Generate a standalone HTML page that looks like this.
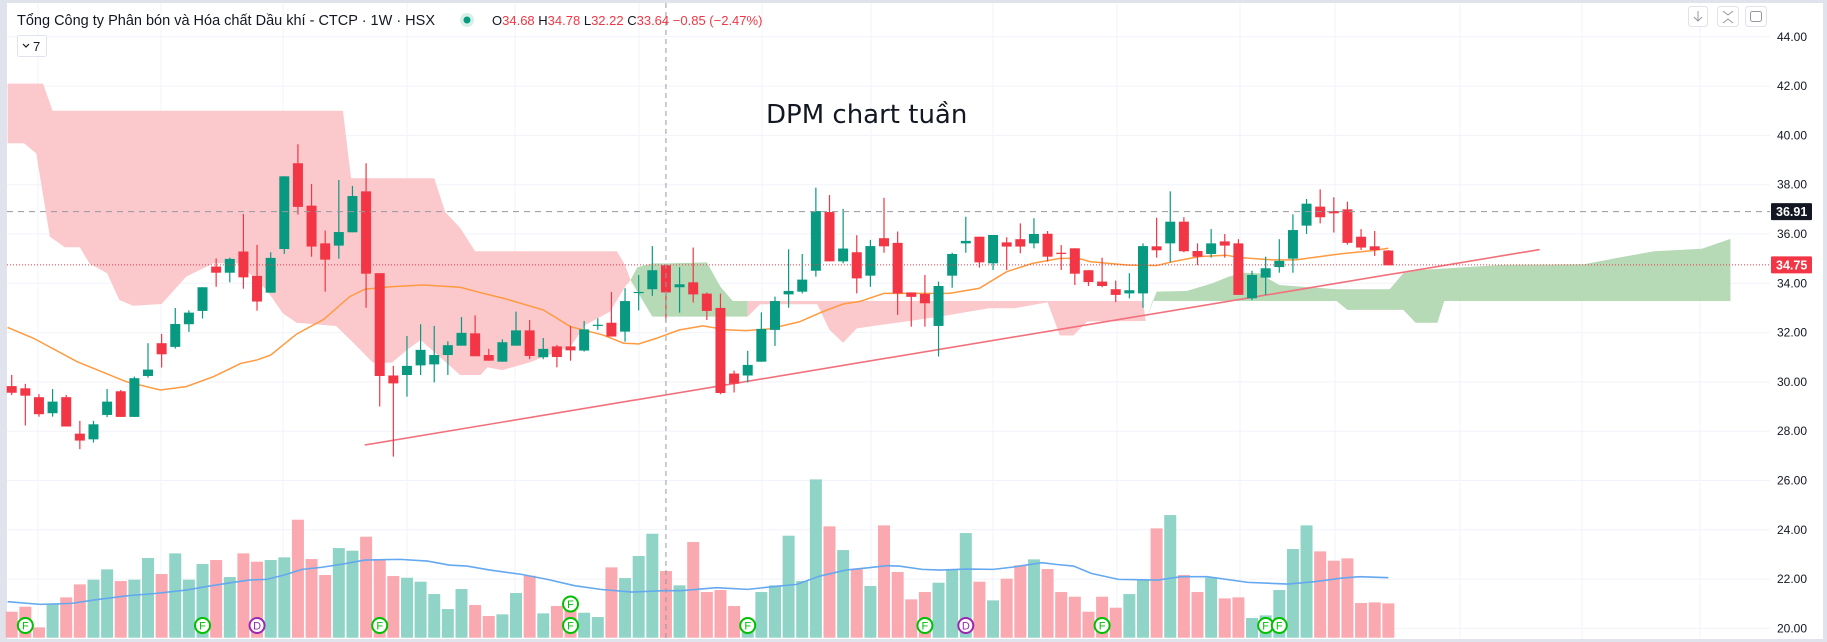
<!DOCTYPE html>
<html><head><meta charset="utf-8"><style>
html,body{margin:0;padding:0;background:#fff;}
svg{display:block;font-family:"Liberation Sans","Noto Sans CJK SC",sans-serif;}
</style></head><body>
<svg id="chart" width="1827" height="642" viewBox="0 0 1827 642" xmlns="http://www.w3.org/2000/svg">
<rect x="0" y="0" width="1827" height="642" fill="#e0e3eb"/>
<rect x="7" y="3" width="1816" height="636" fill="#ffffff"/>
<g id="grid"></g>
<g id="clouds"></g>
<g id="vol"></g>
<g id="lines"></g>
<g id="candles"></g>
<g id="overlay"></g>
<g id="axis"></g>
<text x="766" y="123" font-size="26" fill="#131722" style="font-family:'DejaVu Sans','Liberation Sans',sans-serif">DPM chart tuần</text>
<g>
<text x="17" y="25" font-size="14.5" fill="#131722">Tổng Công ty Phân bón và Hóa chất Dầu khí - CTCP · 1W · HSX</text>
<circle cx="467" cy="20" r="7" fill="#d6efe9"/>
<circle cx="467" cy="20" r="3.5" fill="#089981"/>
<text x="492" y="25" font-size="13" fill="#131722">O<tspan fill="#f23645">34.68</tspan> H<tspan fill="#f23645">34.78</tspan> L<tspan fill="#f23645">32.22</tspan> C<tspan fill="#f23645">33.64</tspan> <tspan fill="#f23645">−0.85 (−2.47%)</tspan></text>
<rect x="17.5" y="35.5" width="29" height="21" rx="2" fill="#fff" stroke="#e0e3eb"/>
<path d="M23 44 l3 3 l3 -3" fill="none" stroke="#131722" stroke-width="1.2"/>
<text x="33" y="51" font-size="13" fill="#131722">7</text>
</g>
<g>
<rect x="1688.5" y="6.5" width="19" height="20" rx="3" fill="#fff" stroke="#e0e3eb"/>
<path d="M1698 11 v10 M1694 17 l4 4 l4 -4" fill="none" stroke="#9598a1"/>
<rect x="1717.5" y="6.5" width="21" height="20" rx="3" fill="#fff" stroke="#e0e3eb"/>
<path d="M1723 11 l5 4 l5 -4 M1723 23 l5 -4 l5 4" fill="none" stroke="#9598a1"/>
<rect x="1745.5" y="6.5" width="21" height="20" rx="3" fill="#fff" stroke="#e0e3eb"/>
<rect x="1750.5" y="11.5" width="11" height="10" rx="2" fill="none" stroke="#9598a1"/>
</g>
</svg>
<script>
const opens=[29.83,29.74,29.38,28.73,29.38,27.90,27.67,28.66,29.62,28.58,30.24,31.57,31.42,32.34,32.88,34.68,34.43,35.29,34.30,33.62,35.39,38.87,37.15,35.62,35.53,36.07,37.73,34.41,30.26,30.28,30.67,30.71,31.09,31.47,31.97,31.09,30.82,31.47,32.09,31.00,31.44,31.44,31.27,32.30,32.40,32.04,33.63,33.76,34.73,33.84,34.04,33.58,33.00,30.34,30.26,30.82,32.11,33.55,33.66,34.51,36.89,34.89,35.26,34.31,35.83,35.64,33.63,33.57,32.27,34.31,35.62,35.89,34.81,35.66,35.79,35.62,36.01,35.24,35.42,34.53,34.07,33.76,33.59,33.59,35.50,35.62,36.50,35.31,35.19,35.70,35.62,33.39,34.23,34.66,35.00,36.34,37.11,36.93,37.00,35.89,35.50,35.33];
const highs=[30.28,29.92,29.50,29.71,29.47,28.42,28.42,29.71,29.67,30.22,31.57,31.95,33.00,32.90,33.84,35.01,35.04,36.81,35.56,35.26,38.34,39.64,38.03,36.14,38.19,37.95,38.87,34.41,30.65,31.86,32.34,32.27,31.65,32.63,32.70,31.34,31.73,32.85,32.51,31.78,31.50,32.27,32.47,32.58,33.65,33.80,34.34,35.51,34.73,34.65,35.45,33.63,33.58,30.46,31.26,32.82,33.46,35.38,35.19,37.88,37.58,37.02,35.95,35.76,37.47,36.10,33.63,34.34,34.07,35.24,36.70,35.89,35.96,35.87,36.43,36.64,36.12,35.55,35.42,34.53,35.04,34.11,34.41,35.62,36.66,37.73,36.68,35.62,36.20,36.00,35.79,34.51,35.08,35.79,36.80,37.42,37.81,37.49,37.31,36.20,36.12,35.35];
const lows=[29.47,28.23,28.59,28.59,28.19,27.27,27.54,28.57,28.58,28.58,30.17,30.58,31.35,32.03,32.57,33.86,34.04,33.78,32.89,33.62,35.19,36.79,35.08,33.66,35.00,36.07,33.01,29.00,26.97,29.40,30.28,29.98,30.28,31.47,31.04,30.86,30.82,31.47,30.92,30.92,30.59,30.86,31.23,32.11,31.84,31.63,32.90,33.49,32.45,32.81,33.22,32.51,29.50,29.57,29.98,30.82,31.46,33.01,33.59,34.27,34.89,34.81,33.59,33.86,35.24,32.72,32.24,32.24,31.03,33.82,35.24,34.64,34.54,34.54,35.22,35.42,34.88,34.54,33.93,33.89,33.84,33.24,33.39,33.01,35.04,34.85,35.26,34.74,35.04,35.04,33.53,33.32,33.53,34.43,34.43,36.00,36.43,36.06,35.57,35.35,35.11,34.73];
const closes=[29.56,29.44,28.69,29.20,28.19,27.62,28.28,29.20,28.58,30.15,30.50,31.12,32.35,32.81,33.84,34.43,34.99,34.24,33.26,35.03,38.34,37.10,35.49,34.96,36.08,37.54,34.39,30.24,29.94,30.65,31.30,31.09,31.49,31.99,31.04,30.86,31.61,32.09,31.05,31.34,31.01,31.28,32.13,32.32,31.84,33.28,33.65,34.53,33.63,33.96,33.55,32.88,29.55,29.93,30.69,32.15,33.28,33.69,34.15,36.93,34.89,35.41,34.20,35.51,35.50,33.59,33.45,33.19,33.89,35.19,35.72,34.85,35.96,35.49,35.49,36.00,35.08,35.19,34.39,34.05,33.89,33.53,33.72,35.51,35.34,36.50,35.30,35.08,35.62,35.53,33.53,34.34,34.61,34.91,36.16,37.23,36.68,36.84,35.64,35.45,35.35,34.73];
const volumes=[0.78,0.93,0.31,1.00,1.21,1.60,1.74,2.05,1.70,1.74,2.39,1.91,2.53,1.74,2.21,2.33,1.82,2.53,2.28,2.33,2.41,3.54,2.36,1.88,2.69,2.61,3.03,2.36,1.85,1.80,1.68,1.31,0.86,1.46,0.98,0.65,0.70,1.34,1.86,0.73,0.95,0.83,0.75,0.62,2.11,1.79,2.45,3.12,2.00,1.57,2.87,1.37,1.43,0.95,0.43,1.37,1.57,3.06,1.70,4.75,3.34,2.63,2.06,1.55,3.37,1.97,1.15,1.37,1.65,2.05,3.14,1.68,1.12,1.77,2.17,2.35,2.06,1.37,1.23,0.78,1.23,0.90,1.31,1.72,3.28,3.68,1.88,1.37,1.80,1.18,1.21,0.59,0.67,1.43,2.66,3.37,2.59,2.31,2.38,1.04,1.06,1.03];
const smaIdx=[-0.3,1.6,4.8,8.4,10.9,12.8,14.8,16.8,18.0,19.0,20.9,22.9,24.8,25.9,27.8,30.2,32.9,34.4,36.1,39.0,41.0,43.4,44.9,46.0,47.3,49.0,50.7,52.5,53.9,55.6,57.8,59.5,61.0,62.2,64.0,68.8,71.0,73.0,74.9,76.9,78.3,79.1,81.8,84.0,85.2,87.1,89.1,90.1,92.5,94.2,97.4,99.9,101.0];
const smaVal=[32.21,31.77,30.82,30.01,29.67,29.81,30.21,30.75,30.89,31.09,31.94,32.54,33.46,33.76,33.86,33.93,33.84,33.62,33.39,32.92,32.24,31.90,31.57,31.54,31.77,32.11,32.27,32.11,32.08,32.15,32.44,32.85,33.16,33.26,33.59,33.59,33.80,34.47,34.81,35.01,35.01,34.88,34.74,34.72,34.88,35.08,35.14,35.04,34.95,34.95,35.19,35.33,35.42];
const volMaIdx=[-0.3,2.1,4.4,6.0,8.3,10.6,12.8,14.5,16.1,17.4,18.7,20.0,21.3,22.7,24.3,25.9,28.5,30.5,32.1,33.4,35.1,37.4,39.3,41.3,43.2,45.5,47.8,49.1,51.7,54.0,56.3,57.6,59.3,61.2,62.9,64.2,65.1,66.8,68.1,70.1,72.0,73.3,75.6,76.6,77.9,79.2,81.2,84.1,85.8,87.7,90.7,93.6,95.6,97.6,98.9,101.0];
const volMaVal=[1.08,1.00,1.03,1.13,1.25,1.33,1.43,1.55,1.65,1.73,1.75,1.88,2.05,2.11,2.21,2.33,2.35,2.30,2.18,2.15,2.03,1.90,1.75,1.56,1.45,1.37,1.41,1.41,1.50,1.45,1.55,1.60,1.85,2.03,2.10,2.16,2.15,2.05,2.03,2.06,2.05,2.11,2.25,2.20,2.15,1.93,1.75,1.73,1.83,1.83,1.66,1.61,1.68,1.79,1.83,1.80];
const redCloud1Top=[[-0.3,42.1],[2.3,42.1],[3.0,41.0],[24.3,41.0],[24.9,38.26],[31.0,38.26],[31.8,36.9],[32.9,36.25],[34.0,35.3],[44.4,35.3],[45.0,34.74],[45.4,34.13]];
const redCloud1Bottom=[[-0.3,39.68],[0.9,39.68],[1.8,39.27],[2.8,35.89],[3.9,35.46],[5.0,35.46],[5.7,34.81],[7.0,34.41],[7.9,33.32],[8.9,33.09],[11.0,33.16],[12.8,34.27],[14.8,34.81],[16.7,34.81],[18.7,33.73],[19.9,32.78],[20.9,32.40],[23.8,32.27],[25.1,31.57],[26.5,30.78],[27.9,30.78],[29.0,31.30],[30.0,31.70],[32.9,30.28],[34.4,30.28],[34.9,30.59],[36.0,30.48],[38.0,30.79],[41.0,31.43],[42.1,32.31],[43.9,32.85],[45.0,33.86],[45.4,34.13]];
const greenCloud1Top=[[45.4,34.13],[45.9,34.65],[47.0,34.81],[48.1,34.81],[51.0,34.85],[52.0,33.86],[52.9,33.28],[54.0,33.28]];
const greenCloud1Bottom=[[45.4,34.13],[47.0,32.65],[54.0,32.65]];
const redCloud2Top=[[54.0,33.28],[83.0,33.28],[83.2,32.47]];
const redCloud2Bottom=[[54.0,32.65],[54.9,33.15],[59.1,33.15],[60.0,32.11],[61.0,31.59],[62.0,32.17],[68.1,32.65],[71.7,32.99],[73.6,32.99],[76.0,33.23],[76.9,31.88],[77.9,31.88],[78.9,32.45],[83.2,32.47]];
const greenCloud2Top=[[83.2,32.47],[84.0,33.66],[86.2,33.69],[88.1,34.00],[89.3,34.27],[90.4,34.43],[91.5,34.41],[93.0,33.93],[97.2,33.76],[98.0,33.76],[101.1,33.76],[102.1,34.41],[103.3,34.54],[109.4,34.75],[115.4,34.78],[118.0,35.05],[120.5,35.3],[124.0,35.4],[126.1,35.8]];
const greenCloud2Bottom=[[83.2,32.47],[83.7,33.28],[97.2,33.28],[98.0,32.92],[102.1,32.92],[103.0,32.40],[104.6,32.40],[105.1,33.28],[126.1,33.28]];
const trendLine=[[25.9,27.44],[112.1,35.37]];
const fMarkers=[1,14,27,41,54,67,80,92,93];
const dMarkers=[18,70];
const priceTicks=[20,22,24,26,28,30,32,34,36,38,40,42,44];
const lastPrice=34.75, markPrice=36.91, crossIdx=48;
const timeGridX=[38,161,283,407,515,639,762,871,993,1117,1240,1335,1460,1582,1700];

const NS='http://www.w3.org/2000/svg';
const X=i=>11.7+i*13.63;
const Y=p=>234+(36-p)*24.65;
const VBASE=637.7, VY=v=>VBASE-v*33.33;
const PLOT_R=1770;
function mk(tag,attrs,parent){const e=document.createElementNS(NS,tag);for(const k in attrs)e.setAttribute(k,attrs[k]);parent.appendChild(e);return e;}
const grid=document.getElementById('grid');
priceTicks.forEach(p=>{const l=mk('line',{x1:7,x2:PLOT_R,y1:Y(p),y2:Y(p),stroke:'#f0f3fa','stroke-width':1},grid);

});
timeGridX.forEach(x=>{const l=mk('line',{x1:x,x2:x,y1:3,y2:639,stroke:'#f0f3fa','stroke-width':1},grid);

});

const clouds=document.getElementById('clouds');
function cloud(top,bot,fill,name){const pts=top.map(a=>X(a[0])+','+Y(a[1])).concat(bot.slice().reverse().map(a=>X(a[0])+','+Y(a[1])));
const e=mk('polygon',{points:pts.join(' '),fill:fill},clouds);

}
cloud(redCloud1Top,redCloud1Bottom,'#fbc8cc','cloud-bearish-1');
cloud(greenCloud1Top,greenCloud1Bottom,'#b6d9b6','cloud-bullish-1');
cloud(redCloud2Top,redCloud2Bottom,'#fbc8cc','cloud-bearish-2');
cloud(greenCloud2Top,greenCloud2Bottom,'#b6d9b6','cloud-bullish-2');

const vol=document.getElementById('vol');
volumes.forEach((v,i)=>{const up=closes[i]>=opens[i];
const r=mk('rect',{x:X(i)-6,y:VY(v),width:12,height:v*33.33,fill:up?'#8fd4c7':'#f9a9af'},vol);

});

const lines=document.getElementById('lines');
const vma=mk('polyline',{points:volMaIdx.map((a,k)=>X(a)+','+VY(volMaVal[k])).join(' '),fill:'none',stroke:'#64a8f0','stroke-width':1.6},lines);


const sma=mk('polyline',{points:smaIdx.map((a,k)=>X(a)+','+Y(smaVal[k])).join(' '),fill:'none',stroke:'#ff9a40','stroke-width':1.5},lines);


const tl=mk('line',{x1:X(trendLine[0][0]),y1:Y(trendLine[0][1]),x2:X(trendLine[1][0]),y2:Y(trendLine[1][1]),stroke:'#f2707b','stroke-width':1.6},lines);



const cg=document.getElementById('candles');
opens.forEach((o,i)=>{const c=closes[i],up=c>=o,col=up?'#089981':'#f23645',x=X(i);
const w=mk('line',{x1:x,x2:x,y1:Y(highs[i]),y2:Y(lows[i]),stroke:col,'stroke-width':1.2},cg);


const t=Y(Math.max(o,c)),b=Y(Math.min(o,c));
const r=mk('rect',{x:x-5,y:t,width:10,height:Math.max(1.2,b-t),fill:col},cg);

});

const ov=document.getElementById('overlay');
const hl=mk('line',{x1:7,x2:PLOT_R,y1:Y(markPrice),y2:Y(markPrice),stroke:'#9598a1','stroke-dasharray':'6 5','stroke-width':1},ov);


const ll=mk('line',{x1:7,x2:PLOT_R,y1:Y(lastPrice),y2:Y(lastPrice),stroke:'#f23645','stroke-dasharray':'1 2','stroke-width':1},ov);


const cx=mk('line',{x1:X(crossIdx),x2:X(crossIdx),y1:3,y2:639,stroke:'#9598a1','stroke-dasharray':'5 4','stroke-width':1},ov);


function marker(i,y,letter,col,name){const g=mk('g',{},ov);


mk('circle',{cx:X(i),cy:y,r:7.5,fill:'#fff',stroke:col,'stroke-width':2},g);
const t=mk('text',{x:X(i),y:y+4,'text-anchor':'middle','font-size':11,fill:col},g);t.textContent=letter;}
fMarkers.forEach((i,k)=>{const stacked=(i===41);marker(i,625.5,'F','#00c000','financials-marker');if(stacked)marker(i,604,'F','#00c000','financials-marker');});
dMarkers.forEach(i=>marker(i,625.5,'D','#9c27b0','dividend-marker'));

const ax=document.getElementById('axis');
priceTicks.forEach(p=>{const t=mk('text',{x:1777,y:Y(p)+4,'font-size':12,fill:'#131722'},ax);t.textContent=p.toFixed(2);

});
function tag(p,bg,name){const g=mk('g',{},ax);


mk('rect',{x:1771,y:Y(p)-8.5,width:41,height:17,rx:1,fill:bg},g);
const t=mk('text',{x:1776,y:Y(p)+4.5,'font-size':12.5,'font-weight':'bold',fill:'#fff'},g);t.textContent=p.toFixed(2);}
tag(markPrice,'#131722','horizontal-line-price-label');
tag(lastPrice,'#f23645','last-price-label');
</script>
</body></html>
